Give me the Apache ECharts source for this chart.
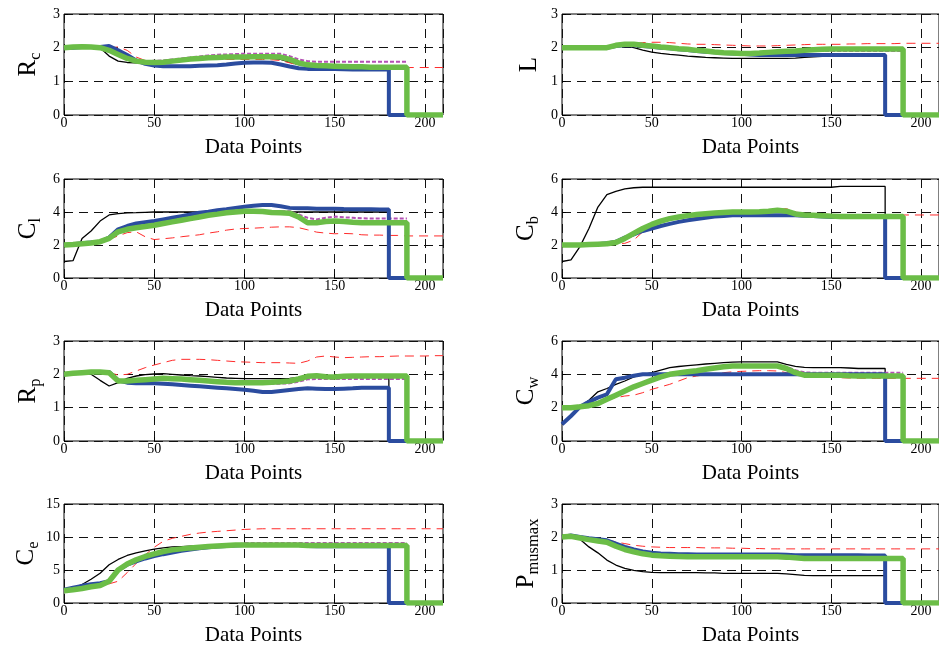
<!DOCTYPE html>
<html><head><meta charset="utf-8">
<script src="https://cdn.jsdelivr.net/npm/echarts@6/dist/echarts.min.js"></script>
<style>html,body{margin:0;padding:0;background:#fff}#c{width:939px;height:647px}</style>
</head><body><div id="c"></div>
<script>
// shared x positions (data points); 180 and 190 appear twice for the vertical drops
const X = [0,5,10,15,20,25,30,35,40,45,50,55,60,65,70,75,80,85,90,95,100,105,110,115,120,125,130,135,140,145,150,155,160,165,170,175,180,180,185,190,190,195,200,205,210];
const xTickValues = [0,50,100,150,200];
const xMax = 210;

// ---- R_c ----
const Rc_black = [2.0,2.05,2.07,2.06,2.0,1.75,1.6,1.56,1.55,1.56,1.58,1.6,1.62,1.64,1.66,1.68,1.69,1.7,1.7,1.7,1.7,1.7,1.7,1.68,1.65,1.57,1.5,1.47,1.46,1.45,1.45,1.44,1.43,1.43,1.42,1.42,1.42,0,0,0,0,0,0,0,0];
const Rc_blue = [2.0,2.0,2.02,2.02,2.02,2.05,1.92,1.78,1.62,1.52,1.47,1.45,1.45,1.45,1.45,1.46,1.47,1.48,1.5,1.53,1.55,1.56,1.56,1.55,1.5,1.44,1.39,1.37,1.37,1.37,1.37,1.36,1.35,1.35,1.35,1.35,1.35,0,0,0,0,0,0,0,0];
const Rc_green = [2.0,2.02,2.03,2.02,2.0,1.92,1.8,1.68,1.6,1.57,1.56,1.57,1.6,1.63,1.66,1.68,1.7,1.71,1.72,1.72,1.72,1.73,1.73,1.73,1.72,1.65,1.55,1.49,1.47,1.46,1.45,1.44,1.43,1.43,1.42,1.42,1.42,1.42,1.42,1.42,0,0,0,0,0];
const Rc_purple = [2.0,2.02,2.03,2.02,2.0,1.92,1.8,1.68,1.6,1.6,1.61,1.62,1.65,1.68,1.71,1.74,1.77,1.79,1.8,1.81,1.82,1.82,1.82,1.82,1.82,1.75,1.65,1.6,1.58,1.58,1.58,1.58,1.58,1.58,1.58,1.58,1.58,1.58,1.58,1.58,null,null,null,null,null];
const Rc_red = [2.0,2.0,2.0,2.0,2.0,2.0,2.02,1.92,1.72,1.62,1.6,1.6,1.61,1.62,1.63,1.64,1.65,1.65,1.65,1.65,1.65,1.65,1.65,1.64,1.62,1.55,1.48,1.45,1.44,1.43,1.42,1.42,1.41,1.41,1.41,1.41,1.41,1.41,1.41,1.41,1.41,1.41,1.41,1.41,1.41];

// ---- L ----
const L_black = [2.0,2.0,2.0,2.0,2.02,2.05,2.05,2.05,2.0,1.93,1.87,1.83,1.8,1.78,1.75,1.73,1.71,1.7,1.69,1.68,1.68,1.68,1.68,1.68,1.68,1.68,1.69,1.71,1.73,1.74,1.75,1.76,1.77,1.78,1.78,1.78,1.78,0,0,0,0,0,0,0,0];
const L_blue = [2.0,2.0,2.0,2.0,2.0,2.0,2.05,2.07,2.07,2.05,2.03,2.0,1.98,1.95,1.93,1.9,1.88,1.86,1.84,1.83,1.82,1.8,1.78,1.78,1.78,1.78,1.78,1.78,1.78,1.78,1.78,1.78,1.78,1.78,1.78,1.78,1.78,0,0,0,0,0,0,0,0];
const L_green = [2.0,2.0,2.0,2.0,2.0,2.0,2.07,2.1,2.1,2.07,2.05,2.02,2.0,1.97,1.95,1.92,1.9,1.87,1.85,1.84,1.83,1.83,1.84,1.86,1.88,1.89,1.9,1.92,1.94,1.95,1.96,1.96,1.96,1.96,1.96,1.96,1.96,1.96,1.96,1.96,0,0,0,0,0];
const L_purple = [2.0,2.0,2.0,2.0,2.0,2.0,2.07,2.1,2.1,2.07,2.05,2.02,2.0,1.97,1.95,1.92,1.9,1.87,1.85,1.84,1.83,1.83,1.84,1.86,1.88,1.89,1.9,1.91,1.91,1.9,1.9,1.9,1.9,1.9,1.9,1.9,1.9,1.9,1.9,1.9,null,null,null,null,null];
const L_red = [2.0,2.0,2.0,2.0,2.0,2.0,2.03,2.08,2.12,2.15,2.16,2.16,2.15,2.13,2.11,2.1,2.1,2.09,2.08,2.07,2.06,2.05,2.05,2.05,2.06,2.07,2.08,2.09,2.1,2.1,2.1,2.1,2.11,2.11,2.12,2.12,2.12,2.12,2.12,2.13,2.13,2.13,2.13,2.13,2.13];

// ---- C_l ----
const Cl_black = [1.0,1.05,2.4,2.85,3.45,3.82,3.9,3.95,3.96,3.98,4.0,4.0,4.0,4.0,4.0,4.0,4.0,4.0,4.0,4.0,4.0,4.0,4.0,4.0,4.0,4.0,4.0,4.0,4.0,4.0,4.0,4.0,4.0,4.0,4.0,4.0,4.0,0,0,0,0,0,0,0,0];
const Cl_blue = [2.0,2.05,2.1,2.15,2.2,2.45,2.95,3.15,3.3,3.38,3.45,3.55,3.65,3.75,3.85,3.95,4.02,4.1,4.17,4.25,4.32,4.38,4.42,4.42,4.35,4.25,4.22,4.22,4.2,4.2,4.2,4.18,4.17,4.17,4.16,4.15,4.15,0,0,0,0,0,0,0,0];
const Cl_green = [2.0,2.03,2.07,2.12,2.2,2.4,2.8,2.95,3.05,3.12,3.2,3.3,3.4,3.5,3.6,3.7,3.8,3.87,3.95,4.0,4.05,4.05,4.03,3.97,3.95,3.93,3.7,3.35,3.35,3.42,3.45,3.42,3.38,3.35,3.35,3.35,3.35,3.35,3.35,3.35,0,0,0,0,0];
const Cl_purple = [2.0,2.03,2.07,2.12,2.2,2.4,2.8,2.95,3.05,3.12,3.2,3.3,3.4,3.5,3.6,3.7,3.8,3.87,3.95,4.0,4.05,4.05,4.05,4.05,4.05,4.05,3.85,3.65,3.55,3.65,3.72,3.68,3.65,3.62,3.6,3.6,3.6,3.6,3.6,3.6,null,null,null,null,null];
const Cl_red = [2.0,2.03,2.07,2.12,2.2,2.35,2.55,2.75,2.8,2.5,2.33,2.38,2.43,2.5,2.56,2.62,2.72,2.8,2.9,2.97,3.0,3.02,3.05,3.08,3.1,3.1,3.05,2.92,2.78,2.72,2.68,2.7,2.68,2.62,2.6,2.6,2.58,2.58,2.58,2.55,2.55,2.55,2.55,2.55,2.55];

// ---- C_b ----
const Cb_black = [1.0,1.1,1.9,3.0,4.3,5.05,5.25,5.4,5.47,5.5,5.5,5.5,5.5,5.5,5.5,5.5,5.5,5.5,5.5,5.5,5.5,5.5,5.5,5.5,5.5,5.5,5.5,5.5,5.5,5.5,5.5,5.55,5.55,5.55,5.55,5.55,5.55,0,0,0,0,0,0,0,0];
const Cb_blue = [2.0,2.0,2.0,2.03,2.05,2.1,2.2,2.45,2.65,2.85,3.0,3.15,3.28,3.4,3.5,3.58,3.65,3.72,3.76,3.8,3.8,3.8,3.8,3.8,3.8,3.8,3.8,3.78,3.75,3.72,3.7,3.7,3.7,3.7,3.7,3.7,3.7,0,0,0,0,0,0,0,0];
const Cb_green = [2.0,2.0,2.0,2.03,2.05,2.07,2.15,2.4,2.7,3.0,3.25,3.45,3.6,3.7,3.78,3.85,3.9,3.94,3.97,4.0,4.0,4.0,4.02,4.05,4.1,4.05,3.88,3.82,3.8,3.78,3.75,3.72,3.72,3.72,3.72,3.72,3.72,3.72,3.72,3.72,0,0,0,0,0];
const Cb_purple = [2.0,2.0,2.0,2.03,2.05,2.07,2.15,2.4,2.7,3.0,3.25,3.45,3.6,3.7,3.78,3.85,3.9,3.94,3.97,4.0,4.0,4.0,4.02,4.05,4.1,4.05,3.88,3.82,3.8,3.78,3.75,3.72,3.72,3.72,3.72,3.72,3.72,3.72,3.72,3.72,null,null,null,null,null];
const Cb_red = [2.0,2.0,2.0,2.03,2.05,2.07,2.1,2.1,2.3,2.8,3.0,3.15,3.3,3.45,3.58,3.68,3.78,3.86,3.92,3.97,4.0,4.02,4.05,4.1,4.15,4.2,4.0,3.9,3.88,3.87,3.85,3.83,3.82,3.82,3.82,3.82,3.82,3.82,3.82,3.82,3.82,3.82,3.82,3.82,3.82];

// ---- R_p ----
const Rp_black = [2.0,2.03,2.05,2.0,1.82,1.65,1.75,1.88,1.95,1.99,2.01,2.02,2.0,1.98,1.96,1.95,1.93,1.91,1.89,1.88,1.87,1.87,1.87,1.87,1.87,1.88,1.9,1.94,1.95,1.94,1.94,1.95,1.95,1.95,1.95,1.95,1.95,0,0,0,0,0,0,0,0];
const Rp_blue = [2.0,2.03,2.05,2.07,2.07,2.07,1.82,1.75,1.73,1.73,1.73,1.72,1.7,1.68,1.66,1.64,1.62,1.6,1.58,1.56,1.54,1.51,1.47,1.47,1.5,1.53,1.56,1.58,1.57,1.56,1.56,1.57,1.58,1.6,1.6,1.6,1.6,0,0,0,0,0,0,0,0];
const Rp_green = [2.0,2.03,2.05,2.07,2.07,2.05,1.8,1.8,1.82,1.84,1.86,1.88,1.87,1.86,1.84,1.82,1.8,1.78,1.76,1.75,1.75,1.75,1.75,1.76,1.78,1.8,1.86,1.94,1.96,1.93,1.92,1.94,1.95,1.95,1.95,1.95,1.95,1.95,1.95,1.95,0,0,0,0,0];
const Rp_purple = [2.0,2.03,2.05,2.07,2.07,2.05,1.8,1.8,1.82,1.84,1.86,1.88,1.87,1.86,1.84,1.82,1.8,1.78,1.76,1.75,1.75,1.75,1.72,1.72,1.72,1.73,1.78,1.85,1.86,1.86,1.86,1.86,1.86,1.86,1.86,1.86,1.86,1.86,1.86,1.86,null,null,null,null,null];
const Rp_red = [2.0,2.03,2.05,2.07,2.07,2.05,1.98,2.0,2.1,2.2,2.28,2.35,2.42,2.45,2.45,2.45,2.44,2.42,2.4,2.38,2.37,2.36,2.35,2.35,2.35,2.34,2.33,2.4,2.52,2.55,2.52,2.5,2.51,2.52,2.53,2.53,2.54,2.54,2.55,2.55,2.55,2.55,2.55,2.56,2.56];

// ---- C_w ----
const Cw_black = [1.0,1.5,2.05,2.45,2.95,3.15,3.4,3.6,3.85,3.98,4.1,4.25,4.4,4.47,4.52,4.57,4.62,4.66,4.7,4.73,4.75,4.75,4.75,4.75,4.75,4.6,4.48,4.42,4.4,4.4,4.4,4.4,4.38,4.35,4.35,4.35,4.35,0,0,0,0,0,0,0,0];
const Cw_blue = [1.0,1.5,2.05,2.35,2.6,2.8,3.7,3.8,3.92,4.0,4.0,4.0,4.0,4.0,4.0,4.0,4.0,4.0,4.0,4.0,4.0,4.0,4.0,4.0,4.0,4.0,4.0,4.0,4.0,4.0,4.0,4.0,4.0,4.0,4.0,4.0,4.0,0,0,0,0,0,0,0,0];
const Cw_green = [2.0,2.0,2.05,2.12,2.25,2.5,2.75,3.0,3.25,3.45,3.65,3.85,4.0,4.08,4.15,4.22,4.3,4.38,4.45,4.5,4.5,4.5,4.5,4.5,4.5,4.35,4.1,3.95,3.95,3.95,3.95,3.95,3.92,3.9,3.9,3.9,3.9,3.9,3.9,3.9,0,0,0,0,0];
const Cw_purple = [2.0,2.0,2.05,2.12,2.25,2.5,2.75,3.0,3.25,3.45,3.65,3.85,4.0,4.08,4.15,4.22,4.3,4.38,4.45,4.5,4.5,4.5,4.5,4.5,4.5,4.45,4.25,4.12,4.1,4.1,4.1,4.1,4.1,4.1,4.1,4.1,4.1,4.1,4.1,4.1,null,null,null,null,null];
const Cw_red = [2.0,2.0,2.05,2.12,2.3,2.45,2.6,2.7,2.75,2.9,3.1,3.25,3.4,3.6,3.8,3.9,3.98,4.05,4.1,4.15,4.18,4.2,4.22,4.22,4.2,4.1,4.0,3.92,3.88,3.85,3.82,3.8,3.78,3.77,3.76,3.76,3.76,3.76,3.76,3.76,3.76,3.76,3.76,3.76,3.76];

// ---- C_e ----
const Ce_black = [2.0,2.3,2.8,3.6,4.5,5.8,6.6,7.2,7.6,7.9,8.15,8.35,8.5,8.55,8.6,8.62,8.65,8.7,8.75,8.78,8.8,8.8,8.8,8.8,8.8,8.8,8.8,8.7,8.7,8.7,8.7,8.7,8.7,8.7,8.7,8.7,8.7,0,0,0,0,0,0,0,0];
const Ce_blue = [2.0,2.3,2.6,2.85,3.0,3.3,5.0,5.8,6.3,6.75,7.1,7.4,7.65,7.9,8.1,8.3,8.45,8.55,8.65,8.72,8.8,8.8,8.8,8.8,8.8,8.8,8.8,8.65,8.6,8.6,8.6,8.6,8.6,8.6,8.6,8.6,8.6,0,0,0,0,0,0,0,0];
const Ce_green = [1.85,2.0,2.2,2.45,2.65,3.3,5.0,5.9,6.55,7.05,7.45,7.8,8.05,8.2,8.35,8.45,8.55,8.65,8.72,8.78,8.8,8.8,8.8,8.8,8.8,8.8,8.8,8.72,8.7,8.7,8.7,8.7,8.7,8.7,8.7,8.7,8.7,8.7,8.7,8.7,0,0,0,0,0];
const Ce_purple = [1.85,2.0,2.2,2.45,2.65,3.3,5.0,5.9,6.55,7.05,7.45,7.8,8.05,8.2,8.35,8.45,8.55,8.65,8.72,8.78,9.1,9.1,9.1,9.1,9.1,9.1,9.1,9.1,9.1,9.1,9.1,9.1,9.1,9.1,9.1,9.1,9.1,9.1,9.1,9.1,null,null,null,null,null];
const Ce_red = [1.85,2.0,2.2,2.45,2.65,2.9,3.3,4.6,6.0,7.3,8.45,9.35,9.8,10.1,10.4,10.6,10.75,10.85,10.95,11.05,11.15,11.2,11.25,11.25,11.25,11.25,11.25,11.25,11.25,11.25,11.25,11.25,11.25,11.25,11.25,11.25,11.25,11.25,11.25,11.25,11.25,11.25,11.25,11.25,11.25];

// ---- P_musmax ----
const Pm_black = [2.0,2.0,1.93,1.7,1.52,1.3,1.15,1.05,0.99,0.95,0.93,0.92,0.92,0.92,0.92,0.92,0.91,0.91,0.9,0.9,0.9,0.9,0.9,0.9,0.9,0.88,0.86,0.84,0.83,0.83,0.83,0.83,0.83,0.83,0.83,0.83,0.83,0,0,0,0,0,0,0,0];
const Pm_blue = [2.0,2.05,2.0,1.96,1.93,1.9,1.8,1.7,1.62,1.56,1.52,1.5,1.49,1.48,1.48,1.47,1.47,1.47,1.47,1.47,1.47,1.47,1.47,1.47,1.47,1.46,1.45,1.45,1.45,1.45,1.45,1.45,1.45,1.45,1.44,1.44,1.44,0,0,0,0,0,0,0,0];
const Pm_green = [2.0,2.02,1.97,1.92,1.88,1.84,1.72,1.62,1.55,1.49,1.45,1.43,1.42,1.41,1.4,1.4,1.4,1.4,1.4,1.4,1.4,1.4,1.4,1.4,1.4,1.39,1.37,1.35,1.35,1.35,1.35,1.35,1.35,1.35,1.35,1.35,1.35,1.35,1.35,1.35,0,0,0,0,0];
const Pm_purple = [2.0,2.02,1.97,1.92,1.88,1.84,1.72,1.62,1.55,1.49,1.45,1.43,1.42,1.41,1.4,1.4,1.4,1.4,1.4,1.4,1.4,1.4,1.4,1.4,1.4,1.39,1.37,1.35,1.35,1.35,1.35,1.35,1.35,1.35,1.35,1.35,1.35,1.35,1.35,1.35,null,null,null,null,null];
const Pm_red = [2.0,2.02,2.0,1.98,1.95,1.92,1.85,1.8,1.75,1.72,1.7,1.69,1.68,1.68,1.68,1.68,1.67,1.67,1.67,1.66,1.66,1.65,1.65,1.64,1.64,1.64,1.64,1.64,1.64,1.64,1.64,1.64,1.64,1.64,1.64,1.64,1.64,1.64,1.64,1.64,1.64,1.64,1.64,1.64,1.64];

// panel definitions (row-major): y-label main letter, subscript, y max, y interval, series
const panelMain = ['R','L','C','C','R','C','C','P'];
const panelSub  = ['c','','l','b','p','w','e','musmax'];
const yMaxes    = [3,3,6,6,3,6,15,3];
const yIntervals= [1,1,2,2,1,2,5,1];
const panelData = [
  [Rc_black,Rc_red,Rc_purple,Rc_blue,Rc_green],
  [L_black,L_red,L_purple,L_blue,L_green],
  [Cl_black,Cl_red,Cl_purple,Cl_blue,Cl_green],
  [Cb_black,Cb_red,Cb_purple,Cb_blue,Cb_green],
  [Rp_black,Rp_red,Rp_purple,Rp_blue,Rp_green],
  [Cw_black,Cw_red,Cw_purple,Cw_blue,Cw_green],
  [Ce_black,Ce_red,Ce_purple,Ce_blue,Ce_green],
  [Pm_black,Pm_red,Pm_purple,Pm_blue,Pm_green]
];

// ---- styling / layout ----
const FONT = 'Liberation Serif, Times New Roman, serif';
const lineStyles = [
  {color:'#000000', width:1.3, type:'solid'},
  {color:'#ff2b2b', width:1, type:[9,6]},
  {color:'#b450b4', width:2, type:[4,2]},
  {color:'#2b4c9f', width:4, type:'solid'},
  {color:'#6bbd47', width:5.5, type:'solid'}
];
const colLeft = [64, 562];
const colWidth = [379, 378];
const rowTop = [14, 179, 341, 504];
const rowHeight = [101, 99, 100, 100];

const grids = [], xAxes = [], yAxes = [], series = [];
for (let p = 0; p < 8; p++) {
  const r = Math.floor(p / 2), c = p % 2;
  grids.push({left: colLeft[c], top: rowTop[r], width: colWidth[c], height: rowHeight[r],
    show: true, borderColor: '#000', borderWidth: 1, backgroundColor: 'transparent', containLabel: false});
  xAxes.push({type: 'value', gridIndex: p, min: 0, max: xMax, interval: 50,
    axisLine: {show: false},
    axisTick: {show: true, inside: true, length: 4, lineStyle: {color: '#000'}},
    axisLabel: {color: '#000', fontFamily: FONT, fontSize: 14, margin: 1, showMaxLabel: false,
      formatter: v => (xTickValues.indexOf(v) >= 0 ? String(v) : '')},
    splitLine: {show: true, lineStyle: {color: '#111', width: 1, type: [9, 6]}},
    name: 'Data Points', nameLocation: 'middle', nameGap: 22,
    nameTextStyle: {color: '#000', fontFamily: FONT, fontSize: 21}
  });
  const nm = panelSub[p] ? '{m|' + panelMain[p] + '}{s|' + panelSub[p] + '}' : '{m|' + panelMain[p] + '}';
  yAxes.push({type: 'value', gridIndex: p, min: 0, max: yMaxes[p], interval: yIntervals[p],
    axisLine: {show: false},
    axisTick: {show: true, inside: true, length: 4, lineStyle: {color: '#000'}},
    axisLabel: {color: '#000', fontFamily: FONT, fontSize: 14, margin: 4},
    splitLine: {show: true, lineStyle: {color: '#111', width: 1, type: [9, 6]}},
    name: nm, nameLocation: 'middle', nameGap: 20, nameRotate: 90,
    nameTextStyle: {color: '#000', rich: {
      m: {fontFamily: FONT, fontSize: 25, color: '#000'},
      s: {fontFamily: FONT, fontSize: 16.5, color: '#000', padding: [14, 0, 0, 0]}
    }}
  });
  panelData[p].forEach((arr, k) => {
    series.push({type: 'line', xAxisIndex: p, yAxisIndex: p, showSymbol: false, symbol: 'none',
      silent: true, z: 2 + k,
      lineStyle: lineStyles[k],
      data: X.map((x, i) => [x, arr[i] === null ? '-' : arr[i]])
    });
  });
}

const chart = echarts.init(document.getElementById('c'), null, {renderer: 'canvas'});
chart.setOption({animation: false, backgroundColor: '#fff', grid: grids, xAxis: xAxes, yAxis: yAxes, series: series});
</script>
</body></html>
